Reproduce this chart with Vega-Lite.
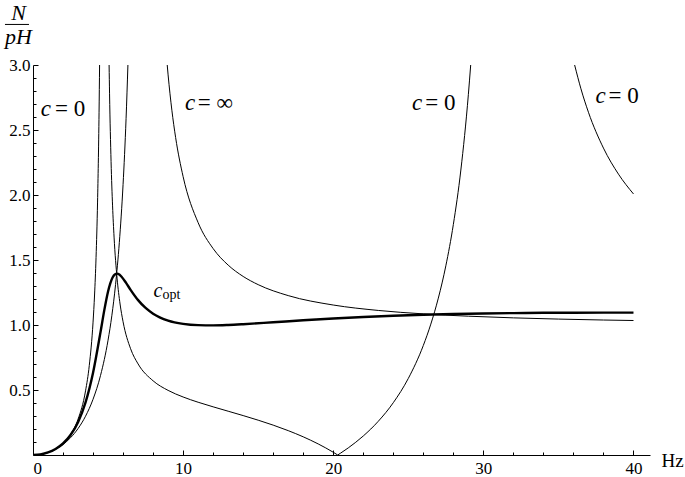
{
  "$schema": "https://vega.github.io/schema/vega-lite/v6.json",
  "width": 617,
  "height": 390,
  "autosize": "none",
  "padding": {"left": 33, "top": 65, "right": 35, "bottom": 22},
  "background": "white",
  "config": {
    "view": {"stroke": null},
    "axis": {
      "domainColor": "black", "domainWidth": 1, "tickColor": "black", "tickWidth": 1,
      "labelColor": "black", "labelFont": "Times New Roman, Liberation Serif, DejaVu Serif, serif", "labelFontSize": 17,
      "grid": false
    },
    "text": {"font": "Times New Roman, Liberation Serif, DejaVu Serif, serif"}
  },
  "datasets": {
    "curves": [
      {"f": 0, "v": 0, "seg": "inf1"}, {"f": 0.5, "v": 0.00471, "seg": "inf1"}, {"f": 1, "v": 0.0191, "seg": "inf1"}, {"f": 1.5, "v": 0.0441, "seg": "inf1"}, {"f": 2, "v": 0.0811, "seg": "inf1"}, {"f": 2.5, "v": 0.1328, "seg": "inf1"}, {"f": 3, "v": 0.2032, "seg": "inf1"}, {"f": 3.5, "v": 0.2984, "seg": "inf1"}, {"f": 4, "v": 0.429, "seg": "inf1"}, {"f": 4.5, "v": 0.6127, "seg": "inf1"}, {"f": 5, "v": 0.8834, "seg": "inf1"}, {"f": 5.25, "v": 1.0709, "seg": "inf1"}, {"f": 5.5, "v": 1.312, "seg": "inf1"}, {"f": 5.75, "v": 1.6337, "seg": "inf1"}, {"f": 6.0, "v": 2.081, "seg": "inf1"}, {"f": 6.1, "v": 2.3126, "seg": "inf1"}, {"f": 6.2, "v": 2.587, "seg": "inf1"}, {"f": 6.3225, "v": 3.0, "seg": "inf1"},
      {"f": 8.9415, "v": 3.0, "seg": "inf2"}, {"f": 9, "v": 2.924, "seg": "inf2"}, {"f": 9.25, "v": 2.6521, "seg": "inf2"}, {"f": 9.5, "v": 2.4425, "seg": "inf2"}, {"f": 10, "v": 2.1413, "seg": "inf2"}, {"f": 11, "v": 1.7873, "seg": "inf2"}, {"f": 12, "v": 1.5877, "seg": "inf2"}, {"f": 13, "v": 1.4607, "seg": "inf2"}, {"f": 14, "v": 1.3735, "seg": "inf2"}, {"f": 15, "v": 1.3104, "seg": "inf2"}, {"f": 17, "v": 1.2261, "seg": "inf2"}, {"f": 20, "v": 1.1537, "seg": "inf2"}, {"f": 23, "v": 1.112, "seg": "inf2"}, {"f": 26, "v": 1.0856, "seg": "inf2"}, {"f": 29, "v": 1.0677, "seg": "inf2"}, {"f": 32, "v": 1.0549, "seg": "inf2"}, {"f": 35, "v": 1.0455, "seg": "inf2"}, {"f": 38, "v": 1.0383, "seg": "inf2"}, {"f": 40, "v": 1.0345, "seg": "inf2"},
      {"f": 0, "v": 0, "seg": "z1"}, {"f": 0.5, "v": 0.00467, "seg": "z1"}, {"f": 1, "v": 0.01932, "seg": "z1"}, {"f": 1.5, "v": 0.04609, "seg": "z1"}, {"f": 2, "v": 0.08954, "seg": "z1"}, {"f": 2.5, "v": 0.159, "seg": "z1"}, {"f": 3, "v": 0.27518, "seg": "z1"}, {"f": 3.5, "v": 0.49331, "seg": "z1"}, {"f": 3.75, "v": 0.68902, "seg": "z1"}, {"f": 4, "v": 1.02207, "seg": "z1"}, {"f": 4.1, "v": 1.23073, "seg": "z1"}, {"f": 4.2, "v": 1.51962, "seg": "z1"}, {"f": 4.3, "v": 1.94571, "seg": "z1"}, {"f": 4.4, "v": 2.63657, "seg": "z1"}, {"f": 4.4357, "v": 3.0, "seg": "z1"},
      {"f": 5.0692, "v": 3.0, "seg": "z2"}, {"f": 5.1, "v": 2.77836, "seg": "z2"}, {"f": 5.2, "v": 2.25703, "seg": "z2"}, {"f": 5.3, "v": 1.91634, "seg": "z2"}, {"f": 5.4, "v": 1.67629, "seg": "z2"}, {"f": 5.6, "v": 1.3602, "seg": "z2"}, {"f": 5.8, "v": 1.16147, "seg": "z2"}, {"f": 6, "v": 1.02493, "seg": "z2"}, {"f": 6.5, "v": 0.81761, "seg": "z2"}, {"f": 7, "v": 0.70051, "seg": "z2"}, {"f": 8, "v": 0.57062, "seg": "z2"}, {"f": 9, "v": 0.49701, "seg": "z2"}, {"f": 10, "v": 0.44616, "seg": "z2"}, {"f": 11, "v": 0.40586, "seg": "z2"}, {"f": 12, "v": 0.37045, "seg": "z2"}, {"f": 13, "v": 0.33687, "seg": "z2"}, {"f": 14, "v": 0.30315, "seg": "z2"}, {"f": 15, "v": 0.26784, "seg": "z2"}, {"f": 16, "v": 0.22969, "seg": "z2"}, {"f": 17, "v": 0.18746, "seg": "z2"}, {"f": 18, "v": 0.1398, "seg": "z2"}, {"f": 19, "v": 0.08507, "seg": "z2"}, {"f": 20, "v": 0.02118, "seg": "z2"}, {"f": 20.298, "v": 0, "seg": "z2"},
      {"f": 20.298, "v": 0, "seg": "z3"}, {"f": 20.5, "v": 0.01503, "seg": "z3"}, {"f": 21, "v": 0.05464, "seg": "z3"}, {"f": 22, "v": 0.14627, "seg": "z3"}, {"f": 23, "v": 0.25934, "seg": "z3"}, {"f": 24, "v": 0.40237, "seg": "z3"}, {"f": 25, "v": 0.58901, "seg": "z3"}, {"f": 26, "v": 0.84261, "seg": "z3"}, {"f": 26.5, "v": 1.00678, "seg": "z3"}, {"f": 27, "v": 1.20665, "seg": "z3"}, {"f": 27.5, "v": 1.45522, "seg": "z3"}, {"f": 28, "v": 1.77264, "seg": "z3"}, {"f": 28.5, "v": 2.19199, "seg": "z3"}, {"f": 29, "v": 2.77163, "seg": "z3"}, {"f": 29.156, "v": 3.0, "seg": "z3"},
      {"f": 36.08, "v": 3.0, "seg": "z4"}, {"f": 36.5, "v": 2.8169, "seg": "z4"}, {"f": 37, "v": 2.63643, "seg": "z4"}, {"f": 38, "v": 2.36079, "seg": "z4"}, {"f": 39, "v": 2.16027, "seg": "z4"}, {"f": 40, "v": 2.00797, "seg": "z4"}
    ],
    "copt": [
      {"f": 0, "v": 0}, {"f": 0.5, "v": 0.00467}, {"f": 1, "v": 0.01931}, {"f": 1.5, "v": 0.04595}, {"f": 2, "v": 0.08848}, {"f": 2.5, "v": 0.15366}, {"f": 3, "v": 0.25277}, {"f": 3.5, "v": 0.40412}, {"f": 4, "v": 0.63264}, {"f": 4.5, "v": 0.9469}, {"f": 4.75, "v": 1.11447}, {"f": 5, "v": 1.258}, {"f": 5.3, "v": 1.36557}, {"f": 5.45, "v": 1.38914}, {"f": 5.6, "v": 1.39535}, {"f": 5.75, "v": 1.38811}, {"f": 5.9, "v": 1.37151}, {"f": 6.2, "v": 1.32355}, {"f": 6.5, "v": 1.27043}, {"f": 7, "v": 1.19133}, {"f": 7.5, "v": 1.13089}, {"f": 8, "v": 1.08706}, {"f": 9, "v": 1.03398}, {"f": 10, "v": 1.00879}, {"f": 11, "v": 0.99877}, {"f": 12, "v": 0.99719}, {"f": 13, "v": 1.00036}, {"f": 14, "v": 1.00615}, {"f": 16, "v": 1.02092}, {"f": 18, "v": 1.03616}, {"f": 20, "v": 1.04992}, {"f": 22, "v": 1.06159}, {"f": 24, "v": 1.0711}, {"f": 26, "v": 1.07863}, {"f": 28, "v": 1.0844}, {"f": 30, "v": 1.08868}, {"f": 32, "v": 1.0917}, {"f": 34, "v": 1.09367}, {"f": 36, "v": 1.09478}, {"f": 38, "v": 1.09518}, {"f": 40, "v": 1.09499}
    ],
    "labC": [
      {"x": 0.513, "y": 2.608, "t": "c"}, {"x": 10.13, "y": 2.654, "t": "c"}, {"x": 25.25, "y": 2.654, "t": "c"}, {"x": 37.47, "y": 2.708, "t": "c"}
    ],
    "labEq": [
      {"x": 1.467, "y": 2.608, "t": "= 0"}, {"x": 10.98, "y": 2.654, "t": "= ∞"}, {"x": 26.13, "y": 2.654, "t": "= 0"}, {"x": 38.33, "y": 2.708, "t": "= 0"}
    ],
    "coptC": [{"x": 8.02, "y": 1.215, "t": "c"}],
    "coptSub": [{"x": 8.62, "y": 1.2, "t": "opt"}],
    "ylab": [{"x": -0.967, "y": 3.346, "t": "N"}, {"x": -0.967, "y": 3.162, "t": "pH"}],
    "frac": [{"x": -1.867, "x2": -0.267, "y": 3.312}],
    "xlab": [{"x": 41.87, "y": -0.092, "t": "Hz"}]
  },
  "layer": [
    {
      "data": {"name": "curves"},
      "mark": {"type": "line", "color": "black", "strokeWidth": 1, "interpolate": "monotone", "clip": true},
      "encoding": {
        "x": {"field": "f", "type": "quantitative", "scale": {"domain": [0, 41.1], "nice": false, "zero": false},
              "axis": {"orient": "bottom", "title": null, "values": [2, 4, 6, 8, 12, 14, 16, 18, 22, 24, 26, 28, 32, 34, 36, 38], "labels": false, "tickSize": -3, "domain": true}},
        "y": {"field": "v", "type": "quantitative", "scale": {"domain": [0, 3], "nice": false},
              "axis": {"orient": "left", "title": null, "values": [0.1, 0.2, 0.3, 0.4, 0.6, 0.7, 0.8, 0.9, 1.1, 1.2, 1.3, 1.4, 1.6, 1.7, 1.8, 1.9, 2.1, 2.2, 2.3, 2.4, 2.6, 2.7, 2.8, 2.9], "labels": false, "tickSize": -3, "domain": true}},
        "detail": {"field": "seg", "type": "nominal"}
      }
    },
    {
      "data": {"name": "copt"},
      "mark": {"type": "line", "color": "black", "strokeWidth": 2.4, "interpolate": "monotone", "clip": true},
      "encoding": {
        "x": {"field": "f", "type": "quantitative", "scale": {"domain": [0, 41.1], "nice": false, "zero": false},
              "axis": {"orient": "bottom", "title": null, "values": [0, 10, 20, 30, 40], "tickSize": -5, "labelPadding": 10, "domain": false}},
        "y": {"field": "v", "type": "quantitative", "scale": {"domain": [0, 3], "nice": false},
              "axis": {"orient": "left", "title": null, "values": [0.5, 1, 1.5, 2, 2.5, 3], "format": ".1f", "tickSize": -5, "labelPadding": 8, "domain": false}}
      }
    },
    {
      "data": {"name": "labC"},
      "mark": {"type": "text", "fontStyle": "italic", "fontSize": 23, "align": "left", "baseline": "alphabetic", "color": "black"},
      "encoding": {
        "x": {"field": "x", "type": "quantitative", "axis": null},
        "y": {"field": "y", "type": "quantitative", "axis": null},
        "text": {"field": "t"}
      }
    },
    {
      "data": {"name": "labEq"},
      "mark": {"type": "text", "fontSize": 23, "align": "left", "baseline": "alphabetic", "color": "black"},
      "encoding": {
        "x": {"field": "x", "type": "quantitative", "axis": null},
        "y": {"field": "y", "type": "quantitative", "axis": null},
        "text": {"field": "t"}
      }
    },
    {
      "data": {"name": "coptC"},
      "mark": {"type": "text", "fontStyle": "italic", "fontSize": 20, "align": "left", "baseline": "alphabetic", "color": "black"},
      "encoding": {
        "x": {"field": "x", "type": "quantitative", "axis": null},
        "y": {"field": "y", "type": "quantitative", "axis": null},
        "text": {"field": "t"}
      }
    },
    {
      "data": {"name": "coptSub"},
      "mark": {"type": "text", "fontSize": 14, "align": "left", "baseline": "alphabetic", "color": "black"},
      "encoding": {
        "x": {"field": "x", "type": "quantitative", "axis": null},
        "y": {"field": "y", "type": "quantitative", "axis": null},
        "text": {"field": "t"}
      }
    },
    {
      "data": {"name": "ylab"},
      "mark": {"type": "text", "fontStyle": "italic", "fontSize": 22, "align": "center", "baseline": "alphabetic", "color": "black"},
      "encoding": {
        "x": {"field": "x", "type": "quantitative", "axis": null},
        "y": {"field": "y", "type": "quantitative", "axis": null},
        "text": {"field": "t"}
      }
    },
    {
      "data": {"name": "frac"},
      "mark": {"type": "rule", "color": "black", "strokeWidth": 1},
      "encoding": {
        "x": {"field": "x", "type": "quantitative", "axis": null},
        "x2": {"field": "x2"},
        "y": {"field": "y", "type": "quantitative", "axis": null}
      }
    },
    {
      "data": {"name": "xlab"},
      "mark": {"type": "text", "fontSize": 19, "align": "left", "baseline": "alphabetic", "color": "black"},
      "encoding": {
        "x": {"field": "x", "type": "quantitative", "axis": null},
        "y": {"field": "y", "type": "quantitative", "axis": null},
        "text": {"field": "t"}
      }
    }
  ],
  "resolve": {"axis": {"x": "independent", "y": "independent"}}
}
